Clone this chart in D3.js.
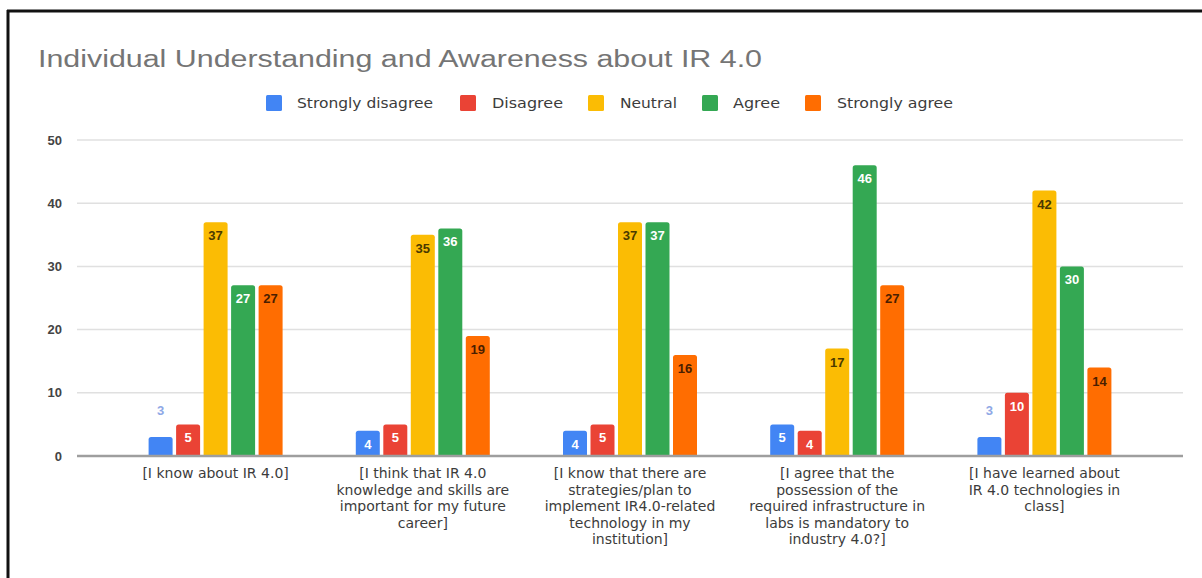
<!DOCTYPE html>
<html>
<head>
<meta charset="utf-8">
<script src="https://cdn.jsdelivr.net/npm/d3@7"></script>
<style>
  body { margin: 0; background: #fff; }
  svg { display: block; font-family: "Liberation Sans", Arial, sans-serif; }
</style>
</head>
<body>
<svg width="1202" height="578"></svg>
<script>
var svg = d3.select("svg"),
    width = 1202,
    height = 578;

// data
var categories = [
  ["[I know about IR 4.0]"],
  ["[I think that IR 4.0", "knowledge and skills are", "important for my future", "career]"],
  ["[I know that there are", "strategies/plan to", "implement IR4.0-related", "technology in my", "institution]"],
  ["[I agree that the", "possession of the", "required infrastructure in", "labs is mandatory to", "industry 4.0?]"],
  ["[I have learned about", "IR 4.0 technologies in", "class]"]
];
var seriesNames = ["Strongly disagree", "Disagree", "Neutral", "Agree", "Strongly agree"];
var stronglyDisagree = [3, 4, 4, 5, 3];
var disagree = [5, 5, 5, 4, 10];
var neutral = [37, 35, 37, 17, 42];
var agree = [27, 36, 37, 46, 30];
var stronglyAgree = [27, 19, 16, 27, 14];
var yTicks = [0, 10, 20, 30, 40, 50];

var series = [stronglyDisagree, disagree, neutral, agree, stronglyAgree];
var colors = ["#4285f4", "#ea4335", "#fbbc04", "#34a853", "#ff6d01"];
var labelColors = ["#ffffff", "#ffffff", "#4a3a00", "#ffffff", "#4a1e00"];

// frame like the screenshot
svg.append("line").attr("x1", 7).attr("x2", width).attr("y1", 11).attr("y2", 11)
  .attr("stroke", "#111").attr("stroke-width", 3);
svg.append("line").attr("x1", 8).attr("x2", 8).attr("y1", 10).attr("y2", height)
  .attr("stroke", "#111").attr("stroke-width", 3);

// title
svg.append("text")
  .attr("x", 38).attr("y", 67)
  .attr("font-size", 23)
  .attr("fill", "#757575")
  .attr("textLength", 724).attr("lengthAdjust", "spacingAndGlyphs")
  .text("Individual Understanding and Awareness about IR 4.0");

// legend
var legendX = [266, 460, 588, 702, 805];
var legendTextX = [297, 492, 620, 733, 837];
var legendW = [136, 71, 57, 47, 116];
var legend = svg.append("g");
seriesNames.forEach(function(name, i) {
  legend.append("rect")
    .attr("x", legendX[i]).attr("y", 95)
    .attr("width", 16).attr("height", 16)
    .attr("rx", 1.5)
    .attr("fill", colors[i]);
  legend.append("text")
    .attr("x", legendTextX[i]).attr("y", 108)
    .attr("font-family", "DejaVu Sans, sans-serif")
    .attr("font-size", 13.5)
    .attr("fill", "#3c3c3c")
    .attr("textLength", legendW[i]).attr("lengthAdjust", "spacingAndGlyphs")
    .text(name);
});

// scales
var y = d3.scaleLinear().domain([0, 50]).range([456, 140]);
var x0 = d3.scaleBand().domain(d3.range(categories.length)).range([112, 1148]);
var step = 27.5, barW = 24;

// grid
svg.append("g").selectAll("line")
  .data(yTicks.slice(1))
  .join("line")
    .attr("x1", 77).attr("x2", 1183)
    .attr("y1", function(d) { return y(d); })
    .attr("y2", function(d) { return y(d); })
    .attr("stroke", "#e0e0e0").attr("stroke-width", 1.5);

// y labels
svg.append("g").selectAll("text")
  .data(yTicks)
  .join("text")
    .attr("x", 62)
    .attr("y", function(d) { return y(d) + 4.5; })
    .attr("text-anchor", "end")
    .attr("font-size", 13)
    .attr("font-weight", "bold")
    .attr("fill", "#444")
    .text(function(d) { return d; });

function barPath(x, top, w, bottom) {
  var r = Math.min(2.5, (bottom - top) / 2);
  return "M" + x + "," + bottom +
    "V" + (top + r) +
    "Q" + x + "," + top + " " + (x + r) + "," + top +
    "H" + (x + w - r) +
    "Q" + (x + w) + "," + top + " " + (x + w) + "," + (top + r) +
    "V" + bottom + "Z";
}

// bars
var groups = svg.append("g").selectAll("g")
  .data(categories)
  .join("g");

groups.each(function(c, ci) {
  var g = d3.select(this);
  var center = x0(ci) + x0.bandwidth() / 2;
  series.forEach(function(vals, si) {
    var v = vals[ci];
    var bx = center + (si - 2) * step - barW / 2;
    g.append("path")
      .attr("d", barPath(bx, y(v), barW, y(0)))
      .attr("fill", colors[si]);
    var h = y(0) - y(v);
    var inside = h >= 20;
    g.append("text")
      .attr("x", bx + barW / 2)
      .attr("y", inside ? y(v) + 18 : y(v) - 22)
      .attr("text-anchor", "middle")
      .attr("font-size", 13)
      .attr("font-weight", "bold")
      .attr("fill", inside ? labelColors[si] : "#8fa8e6")
      .text(v);
  });
  // category label
  var t = g.append("text")
    .attr("text-anchor", "middle")
    .attr("font-family", "DejaVu Sans, sans-serif")
    .attr("font-size", 14)
    .attr("fill", "#3c3c3c");
  c.forEach(function(line, li) {
    t.append("tspan")
      .attr("x", center)
      .attr("y", 478 + li * 16.5)
      .text(line);
  });
});

// baseline
svg.append("line")
  .attr("x1", 77).attr("x2", 1183)
  .attr("y1", y(0)).attr("y2", y(0))
  .attr("stroke", "#9e9e9e").attr("stroke-width", 2.5);
</script>
</body>
</html>
